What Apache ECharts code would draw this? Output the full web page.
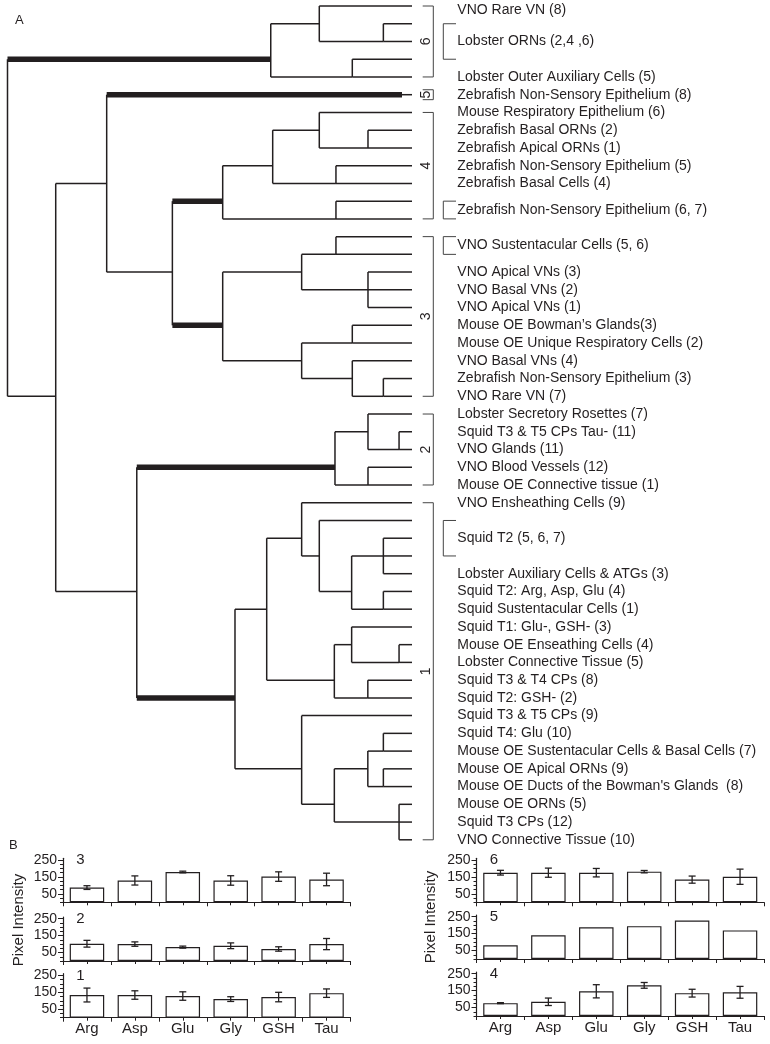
<!DOCTYPE html>
<html><head><meta charset="utf-8">
<script src="https://cdn.jsdelivr.net/npm/echarts@6/dist/echarts.min.js"></script>
<style>html,body{margin:0;padding:0;background:#fff}#c{width:770px;height:1044px}</style>
</head><body><div id="c"></div>
<script>
// ---------- Panel A : dendrogram data ----------
// leaf labels in top-to-bottom order, with the number of dendrogram leaves each label covers
const leafLabels = [
  ['VNO Rare VN (8)', 1],
  ['Lobster ORNs (2,4 ,6)', 3],
  ['Lobster Outer Auxiliary Cells (5)', 1],
  ['Zebrafish Non-Sensory Epithelium (8)', 1],
  ['Mouse Respiratory Epithelium (6)', 1],
  ['Zebrafish Basal ORNs (2)', 1],
  ['Zebrafish Apical ORNs (1)', 1],
  ['Zebrafish Non-Sensory Epithelium (5)', 1],
  ['Zebrafish Basal Cells (4)', 1],
  ['Zebrafish Non-Sensory Epithelium (6, 7)', 2],
  ['VNO Sustentacular Cells (5, 6)', 2],
  ['VNO Apical VNs (3)', 1],
  ['VNO Basal VNs (2)', 1],
  ['VNO Apical VNs (1)', 1],
  ['Mouse OE Bowman\u2019s Glands(3)', 1],
  ['Mouse OE Unique Respiratory Cells (2)', 1],
  ['VNO Basal VNs (4)', 1],
  ['Zebrafish Non-Sensory Epithelium (3)', 1],
  ['VNO Rare VN (7)', 1],
  ['Lobster Secretory Rosettes (7)', 1],
  ['Squid T3 & T5 CPs Tau- (11)', 1],
  ['VNO Glands (11)', 1],
  ['VNO Blood Vessels (12)', 1],
  ['Mouse OE Connective tissue (1)', 1],
  ['VNO Ensheathing Cells (9)', 1],
  ['Squid T2 (5, 6, 7)', 3],
  ['Lobster Auxiliary Cells & ATGs (3)', 1],
  ['Squid T2: Arg, Asp, Glu (4)', 1],
  ['Squid Sustentacular Cells (1)', 1],
  ['Squid T1: Glu-, GSH- (3)', 1],
  ['Mouse OE Enseathing Cells (4)', 1],
  ['Lobster Connective Tissue (5)', 1],
  ['Squid T3 & T4 CPs (8)', 1],
  ['Squid T2: GSH- (2)', 1],
  ['Squid T3 & T5 CPs (9)', 1],
  ['Squid T4: Glu (10)', 1],
  ['Mouse OE Sustentacular Cells & Basal Cells (7)', 1],
  ['Mouse OE Apical ORNs (9)', 1],
  ['Mouse OE Ducts of the Bowman\'s Glands  (8)', 1],
  ['Mouse OE ORNs (5)', 1],
  ['Squid T3 CPs (12)', 1],
  ['VNO Connective Tissue (10)', 1]
];
// merges: [id, rescaled distance, children (leaf index or merge id)]
const merges = [
  ['m1', 1.77, [1, 2]], ['m2', 5.73, [0, 'm1']], ['m3', 3.69, [3, 4]], ['m4', 8.73, ['m2', 'm3']],
  ['m5', 2.72, [7, 8]], ['m6', 5.73, [6, 'm5']], ['m7', 4.70, [9, 10]], ['m8', 8.61, ['m6', 'm7']],
  ['m9', 4.70, [11, 12]], ['m10', 11.70, ['m8', 'm9']],
  ['m11', 4.70, [13, 14]], ['m12', 2.72, [15, 16, 17]], ['m13', 6.82, ['m11', 'm12']],
  ['m14', 3.69, [18, 19]], ['m15', 1.77, [21, 22]], ['m16', 3.69, [20, 'm15']], ['m17', 6.82, ['m14', 'm16']],
  ['m18', 11.70, ['m13', 'm17']], ['m19', 14.81, ['m10', 'm18']], ['m20', 18.87, [5, 'm19']],
  ['m21', 0.80, [24, 25]], ['m22', 2.72, [23, 'm21']], ['m23', 2.72, [26, 27]], ['m24', 4.76, ['m22', 'm23']],
  ['m25', 1.77, [30, 31, 32]], ['m26', 1.77, [33, 34]], ['m27', 3.73, ['m25', 'm26']], ['m28', 5.73, [29, 'm27']],
  ['m29', 6.82, [28, 'm28']], ['m30', 0.80, [36, 37]], ['m31', 3.73, [35, 'm30']], ['m32', 2.73, [38, 39]],
  ['m33', 4.80, ['m31', 'm32']], ['m34', 8.98, ['m29', 'm33']],
  ['m35', 1.77, [41, 42]], ['m36', 1.77, [43, 44]], ['m37', 2.73, ['m35', 'm36']], ['m38', 0.80, [45, 46, 47]],
  ['m39', 4.80, ['m37', 'm38']], ['m40', 6.82, [40, 'm39']], ['m41', 10.94, ['m34', 'm40']],
  ['m42', 17.01, ['m24', 'm41']], ['m43', 22.02, ['m20', 'm42']], ['m44', 25.00, ['m4', 'm43']]
];
// branches leading to the six clusters (drawn bold)
const clusterBranches = ['m4', 5, 'm10', 'm18', 'm24', 'm41'];
// clusters: [name, first leaf, last leaf]
const clusters = [['6', 0, 4], ['5', 5, 5], ['4', 6, 12], ['3', 13, 22], ['2', 23, 27], ['1', 28, 47]];

// ---------- Panel B : pixel intensities ----------
const aminoAcids = ['Arg', 'Asp', 'Glu', 'Gly', 'GSH', 'Tau'];
const yTicks = [50, 150, 250];
const cluster3Mean = [87, 129, 179, 129, 152, 135];
const cluster3Err  = [11, 27, 5, 28, 28, 37];
const cluster2Mean = [102, 100, 82, 90, 71, 100];
const cluster2Err  = [20, 13, 6, 17, 13, 33];
const cluster1Mean = [134, 134, 128, 110, 122, 145];
const cluster1Err  = [41, 25, 25, 14, 28, 25];
const cluster6Mean = [175, 175, 175, 181, 134, 151];
const cluster6Err  = [14, 27, 25, 7, 21, 45];
const cluster5Mean = [81, 140, 188, 194, 227, 169];
const cluster4Mean = [76, 84, 146, 181, 135, 140];
const cluster4Err  = [3, 22, 39, 17, 23, 35];

// ---------- build ----------
const INK = '#231f20';
const FONT = '"Liberation Sans", Arial, sans-serif';

const nodes = {};
const rowOf = c => typeof c === 'number' ? c : nodes[c].row;
const hOf = c => typeof c === 'number' ? 0 : nodes[c].h;
const segs = [];
merges.forEach(([id, h, kids]) => {
  const rows = kids.map(rowOf);
  const top = Math.min(...rows), bot = Math.max(...rows);
  nodes[id] = { h, row: Math.ceil((top + bot) / 2) };
  segs.push([h, top, h, bot, 0, 0]);
  kids.forEach(k => segs.push([h, rowOf(k), hOf(k), rowOf(k),
    clusterBranches.includes(k) ? 1 : 0, typeof k === 'number' ? 1 : 0]));
});

const labelData = [];
let r = 0;
leafLabels.forEach(([t, n], i) => { labelData.push([r, r + n - 1, i]); r += n; });

const grids = [{ left: 7.5, right: 358, top: 6, bottom: 204.2 }];
const xAxes = [{ gridIndex: 0, type: 'value', min: 0, max: 25, inverse: true, show: false }];
const yAxes = [{ gridIndex: 0, type: 'value', min: 0, max: 47, inverse: true, show: false }];
const series = [];

series.push({
  type: 'custom', xAxisIndex: 0, yAxisIndex: 0, silent: true, clip: false,
  data: segs,
  renderItem: (p, api) => {
    const a = api.coord([api.value(0), api.value(1)]);
    const b = api.coord([api.value(2), api.value(3)]);
    if (api.value(4) && api.value(5)) {
      // bold branch to a single-leaf cluster ends a little before the leaf tip
      const xm = b[0] - 10;
      return { type: 'group', children: [
        { type: 'line', shape: { x1: a[0], y1: a[1], x2: xm, y2: b[1] }, style: { stroke: INK, lineWidth: 5.5 } },
        { type: 'line', shape: { x1: xm, y1: b[1], x2: b[0], y2: b[1] }, style: { stroke: INK, lineWidth: 1.5 } }
      ] };
    }
    return { type: 'line', shape: { x1: a[0], y1: a[1], x2: b[0], y2: b[1] },
      style: { stroke: INK, lineWidth: api.value(4) ? 5.5 : 1.5, lineCap: 'butt' } };
  }
});
series.push({
  type: 'custom', xAxisIndex: 0, yAxisIndex: 0, silent: true, clip: false,
  data: labelData,
  renderItem: (p, api) => {
    const s = api.value(0), e = api.value(1), i = api.value(2);
    const a = api.coord([0, s]), b = api.coord([0, e]);
    const ym = Math.max((a[1] + b[1]) / 2, 10), x0 = a[0];
    const ch = [{ type: 'text', style: { text: leafLabels[i][0], x: x0 + 45.3, y: ym, fill: INK,
      fontSize: 14, fontFamily: FONT, align: 'left', verticalAlign: 'middle' } }];
    if (e > s) ch.push({ type: 'polyline', shape: { points: [[x0 + 44, a[1]], [x0 + 31.3, a[1]], [x0 + 31.3, b[1]], [x0 + 44, b[1]]] },
      style: { stroke: '#444', lineWidth: 1, fill: null } });
    return { type: 'group', children: ch };
  }
});
series.push({
  type: 'custom', xAxisIndex: 0, yAxisIndex: 0, silent: true, clip: false,
  data: clusters.map((c, i) => [c[1], c[2], i]),
  renderItem: (p, api) => {
    let s = api.value(0), e = api.value(1);
    if (s === e) { s -= 0.28; e += 0.28; }
    const a = api.coord([0, s]), b = api.coord([0, e]);
    const x0 = a[0];
    return { type: 'group', children: [
      { type: 'polyline', shape: { points: [[x0 + 10.7, a[1]], [x0 + 21.3, a[1]], [x0 + 21.3, b[1]], [x0 + 10.7, b[1]]] },
        style: { stroke: '#444', lineWidth: 1, fill: null } },
      { type: 'text', x: x0 + 14, y: (a[1] + b[1]) / 2, rotation: Math.PI / 2,
        style: { text: clusters[api.value(2)][0], fill: INK, fontSize: 14, fontFamily: FONT, align: 'center', verticalAlign: 'middle' } }
    ] };
  }
});

// bar panels
const panels = [
  { name: '3', mean: cluster3Mean, err: cluster3Err, col: 0, row: 0 },
  { name: '2', mean: cluster2Mean, err: cluster2Err, col: 0, row: 1 },
  { name: '1', mean: cluster1Mean, err: cluster1Err, col: 0, row: 2 },
  { name: '6', mean: cluster6Mean, err: cluster6Err, col: 1, row: 0 },
  { name: '5', mean: cluster5Mean, err: null, col: 1, row: 1 },
  { name: '4', mean: cluster4Mean, err: cluster4Err, col: 1, row: 2 }
];
const colLeft = [63, 476.5], colW = 287.5;
const rowBottom = [[902.3, 961, 1017.7], [902.3, 959, 1016]];
const gh = 44;
const graphics = [];
panels.forEach((pn) => {
  const gi = grids.length;
  const bottomY = rowBottom[pn.col][pn.row];
  grids.push({ left: colLeft[pn.col], width: colW, top: bottomY - gh, height: gh });
  const showLab = pn.row === 2;
  const xi = xAxes.length;
  xAxes.push({ gridIndex: gi, type: 'category', data: aminoAcids, boundaryGap: true,
    axisLine: { lineStyle: { color: INK, width: 1.2 } },
    axisTick: { show: true, length: 4, lineStyle: { color: INK } },
    axisLabel: { show: showLab, fontSize: 15, color: INK, fontFamily: FONT, margin: 4 } });
  xAxes.push({ gridIndex: gi, type: 'category', data: aminoAcids, position: 'bottom',
    axisLine: { show: false }, axisLabel: { show: false },
    axisTick: { show: true, alignWithLabel: true, length: 3, lineStyle: { color: INK } } });
  const yi = yAxes.length;
  yAxes.push({ gridIndex: gi, type: 'value', min: 0, max: 260, splitLine: { show: false },
    axisLine: { show: true, lineStyle: { color: INK, width: 1.2 } },
    axisTick: { show: true, length: 5, customValues: yTicks, lineStyle: { color: INK } },
    axisLabel: { show: true, customValues: yTicks, fontSize: 14, color: INK, fontFamily: FONT, margin: 6 } });
  yAxes.push({ gridIndex: gi, type: 'value', min: 0, max: 260, position: 'left', splitLine: { show: false },
    axisLine: { show: false }, axisLabel: { show: false },
    axisTick: { show: true, length: 3, customValues: [0, 25, 75, 100, 125, 175, 200, 225], lineStyle: { color: INK } } });
  series.push({ type: 'bar', xAxisIndex: xi, yAxisIndex: yi, data: pn.mean, barWidth: '72%', silent: true,
    itemStyle: { color: '#fff', borderColor: INK, borderWidth: 1.2 } });
  if (pn.err) {
    series.push({ type: 'custom', xAxisIndex: xi, yAxisIndex: yi, silent: true, z: 5,
      data: pn.mean.map((m, i) => [i, m, pn.err[i]]),
      encode: { x: 0, y: 1 },
      renderItem: (p, api) => {
        const i = api.value(0), m = api.value(1), e = api.value(2);
        const hi = api.coord([i, m + e]), lo = api.coord([i, m - e]);
        const x = hi[0], w = 3.5, st = { stroke: INK, lineWidth: 1.3 };
        return { type: 'group', children: [
          { type: 'line', shape: { x1: x, y1: hi[1], x2: x, y2: lo[1] }, style: st },
          { type: 'line', shape: { x1: x - w, y1: hi[1], x2: x + w, y2: hi[1] }, style: st },
          { type: 'line', shape: { x1: x - w, y1: lo[1], x2: x + w, y2: lo[1] }, style: st }
        ] };
      } });
  }
  graphics.push({ type: 'text', x: colLeft[pn.col] + 17.5, y: bottomY - 42, style: { text: pn.name, fontSize: 15, fill: INK, fontFamily: FONT, align: 'center', verticalAlign: 'middle' } });
});
graphics.push({ type: 'text', x: 19.3, y: 20, style: { text: 'A', fontSize: 13, fill: INK, fontFamily: FONT, align: 'center', verticalAlign: 'middle' } });
graphics.push({ type: 'text', x: 13.3, y: 845, style: { text: 'B', fontSize: 13, fill: INK, fontFamily: FONT, align: 'center', verticalAlign: 'middle' } });
graphics.push({ type: 'text', x: 19, y: 920, rotation: Math.PI / 2, style: { text: 'Pixel Intensity', fontSize: 15, fill: INK, fontFamily: FONT, align: 'center', verticalAlign: 'middle' } });
graphics.push({ type: 'text', x: 431, y: 917, rotation: Math.PI / 2, style: { text: 'Pixel Intensity', fontSize: 15, fill: INK, fontFamily: FONT, align: 'center', verticalAlign: 'middle' } });

const chart = echarts.init(document.getElementById('c'), null, { renderer: 'canvas' });
chart.setOption({
  animation: false,
  backgroundColor: '#fff',
  grid: grids, xAxis: xAxes, yAxis: yAxes, series, graphic: graphics
});
</script></body></html>
